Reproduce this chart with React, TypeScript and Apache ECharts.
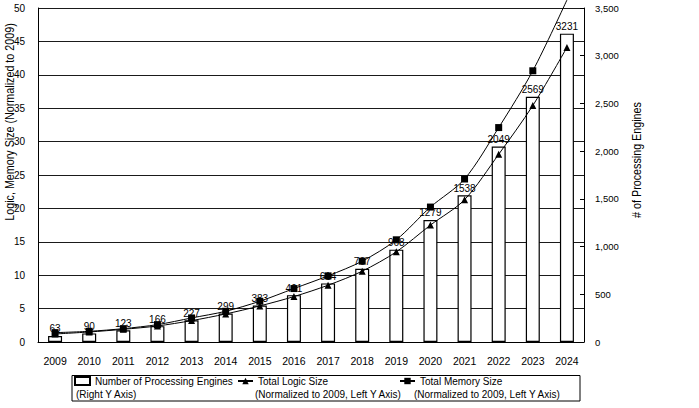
import React, { useEffect, useRef } from 'react';
import * as echarts from 'echarts';

const years = ['2009', '2010', '2011', '2012', '2013', '2014', '2015', '2016', '2017', '2018', '2019', '2020', '2021', '2022', '2023', '2024'];
const engines = [63, 90, 123, 166, 227, 299, 383, 491, 614, 767, 968, 1279, 1538, 2049, 2569, 3231];
const logicSize = [1.2, 1.5, 1.9, 2.4, 3.2, 4.2, 5.4, 6.8, 8.5, 10.6, 13.5, 17.5, 21.3, 28.1, 35.4, 44.1];
const memorySize = [1.4, 1.6, 2.0, 2.6, 3.6, 4.6, 6.1, 8.0, 9.9, 12.1, 15.3, 20.2, 24.4, 32.1, 40.6, 51.2];

const seriesNames = ['Number of Processing Engines', 'Total Logic Size', 'Total Memory Size'];
const legendSubtitles = ['(Right Y Axis)', '(Normalized to 2009, Left Y Axis)', '(Normalized to 2009, Left Y Axis)'];
const leftAxisName = 'Logic, Memory Size (Normalized to 2009)';
const rightAxisName = '# of Processing Engines';

const FONT = "'Liberation Sans', Arial, Helvetica, sans-serif";

const fmtThousands = (v: number) => String(v).replace(/\B(?=(\d{3})+(?!\d))/g, ',');

export default function App() {
  const ref = useRef<HTMLDivElement>(null);
  useEffect(() => {
    document.body.style.margin = '0';
    const chart = echarts.init(ref.current!, null, { renderer: 'svg' });
    const legendBase = {
      padding: 0,
      itemWidth: 15,
      itemHeight: 8,
      textStyle: { color: '#000', fontSize: 10, fontFamily: FONT },
      selectedMode: false,
    };
    const lastIdx = memorySize.length - 1;
    const subStyle = { fontSize: 10, fontFamily: FONT, fill: '#000', align: 'left', verticalAlign: 'middle' };
    const nameStyle = { fontSize: 12.5, fontFamily: FONT, fill: '#000', align: 'center', verticalAlign: 'middle' };
    const option = {
      animation: false,
      backgroundColor: '#fff',
      textStyle: { fontFamily: FONT, color: '#000' },
      grid: { left: 38, right: 115, top: 8, bottom: 66, containLabel: false },
      legend: [
        { ...legendBase, data: [{ name: seriesNames[0], icon: 'rect' }], left: 74, top: 376 },
        { ...legendBase, data: [seriesNames[1]], left: 237, top: 376 },
        { ...legendBase, data: [seriesNames[2]], left: 399, top: 376 },
      ],
      xAxis: {
        type: 'category',
        data: years,
        axisLine: { lineStyle: { color: '#000', width: 1 } },
        axisTick: { inside: true, length: 3, lineStyle: { color: '#000' } },
        axisLabel: { color: '#000', fontSize: 10.5, margin: 13, interval: 0, fontFamily: FONT },
      },
      yAxis: [
        {
          type: 'value',
          min: 0,
          max: 50,
          interval: 5,
          axisLine: { show: true, lineStyle: { color: '#000' } },
          axisTick: { show: false },
          axisLabel: { color: '#000', fontSize: 10, margin: 13, fontFamily: FONT },
          splitLine: { lineStyle: { color: '#1a1a1a', width: 1 } },
        },
        {
          type: 'value',
          min: 0,
          max: 3500,
          interval: 500,
          position: 'right',
          axisLine: { show: true, lineStyle: { color: '#000' } },
          axisTick: { show: true, inside: true, length: 4, lineStyle: { color: '#000' } },
          axisLabel: { color: '#000', fontSize: 9.5, margin: 11, fontFamily: FONT, formatter: fmtThousands },
          splitLine: { show: false },
        },
      ],
      series: [
        {
          name: seriesNames[0],
          type: 'bar',
          yAxisIndex: 1,
          data: engines,
          barWidth: 14,
          itemStyle: { color: '#fff', borderColor: '#000', borderWidth: 1.2 },
          label: { show: true, position: 'top', distance: 2, color: '#000', fontSize: 10, fontFamily: FONT },
        },
        {
          name: seriesNames[1],
          type: 'line',
          yAxisIndex: 0,
          data: logicSize,
          smooth: 0.3,
          symbol: 'triangle',
          symbolSize: 7,
          lineStyle: { color: '#000', width: 1 },
          itemStyle: { color: '#000' },
        },
        {
          name: seriesNames[2],
          type: 'line',
          yAxisIndex: 0,
          data: memorySize.map((v, i) => (i === lastIdx ? { value: v, symbol: 'none' } : v)),
          smooth: 0.3,
          clip: false,
          symbol: 'rect',
          symbolSize: 7,
          lineStyle: { color: '#000', width: 1 },
          itemStyle: { color: '#000' },
        },
      ],
      graphic: [
        {
          type: 'rect',
          silent: true,
          shape: { x: 72, y: 375.5, width: 508, height: 25.5 },
          style: { fill: 'none', stroke: '#000', lineWidth: 1 },
        },
        { type: 'text', silent: true, x: 76, y: 394.5, style: { text: legendSubtitles[0], ...subStyle } },
        { type: 'text', silent: true, x: 255, y: 394.5, style: { text: legendSubtitles[1], ...subStyle } },
        { type: 'text', silent: true, x: 414, y: 394.5, style: { text: legendSubtitles[2], ...subStyle } },
        { type: 'text', silent: true, x: 9, y: 122, rotation: Math.PI / 2, scaleX: 0.86, style: { text: leftAxisName, ...nameStyle } },
        { type: 'text', silent: true, x: 636, y: 160, rotation: Math.PI / 2, scaleX: 0.86, style: { text: rightAxisName, ...nameStyle } },
      ],
    };
    chart.setOption(option as any);
    return () => chart.dispose();
  }, []);
  return <div ref={ref} style={{ position: 'fixed', left: 0, top: 0, width: 699, height: 408 }} />;
}
